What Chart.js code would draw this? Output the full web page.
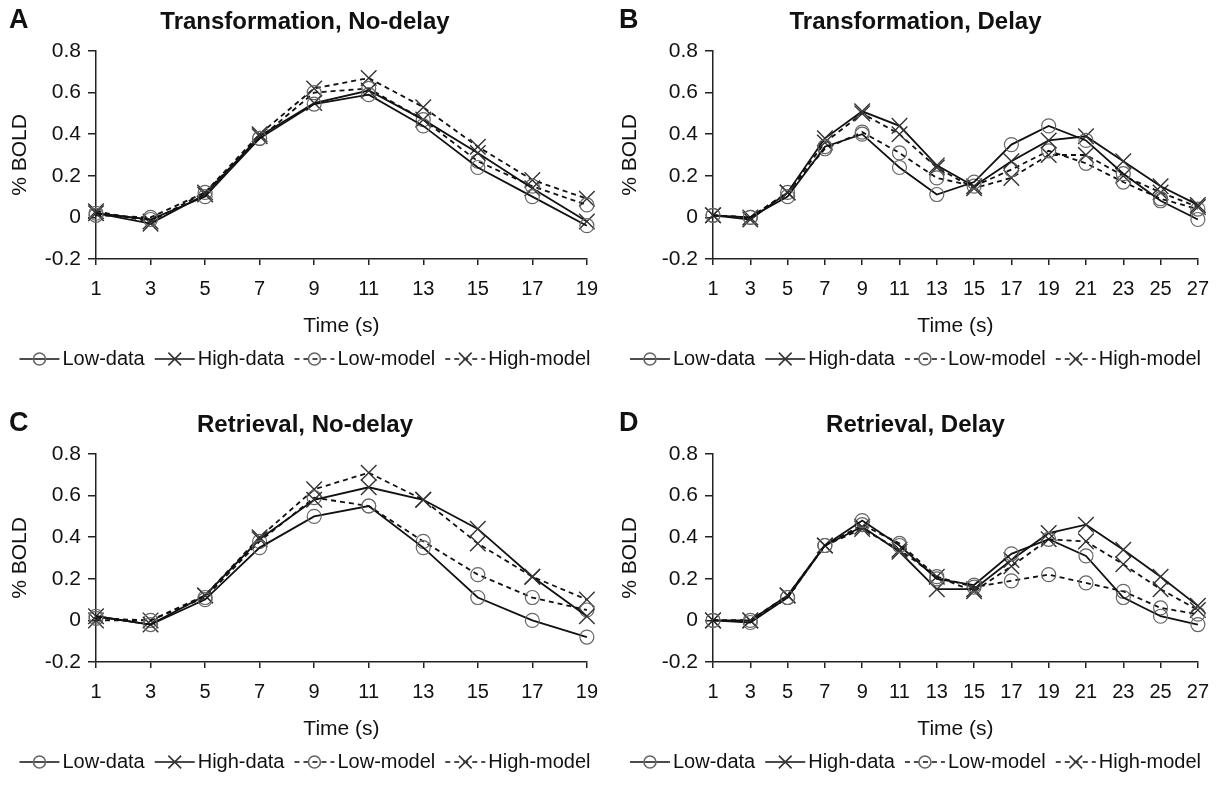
<!DOCTYPE html>
<html>
<head>
<meta charset="utf-8">
<script src="https://cdn.jsdelivr.net/npm/chart.js@4.4.0/dist/chart.umd.min.js"></script>
<style>
  body { margin: 0; background: #fff; width: 1221px; height: 785px; overflow: hidden; position: relative; }
  .panel { position: absolute; }
</style>
</head>
<body>
<div class="panel" style="left:0;top:0"><canvas id="cA" width="610" height="403"></canvas></div>
<div class="panel" style="left:610px;top:0"><canvas id="cB" width="611" height="403"></canvas></div>
<div class="panel" style="left:0;top:403px"><canvas id="cC" width="610" height="382"></canvas></div>
<div class="panel" style="left:610px;top:403px"><canvas id="cD" width="611" height="382"></canvas></div>
<script>
// time points (s)
const timesNoDelay = ['1', '3', '5', '7', '9', '11', '13', '15', '17', '19'];
const timesDelay = ['1', '3', '5', '7', '9', '11', '13', '15', '17', '19', '21', '23', '25', '27'];
const yTicks = [0.8, 0.6, 0.4, 0.2, 0, -0.2];

// A: Transformation, No-delay
const aLowData   = [0.02, -0.01, 0.10, 0.38, 0.545, 0.59, 0.44, 0.24, 0.10, -0.04];
const aHighData  = [0.02, -0.03, 0.11, 0.39, 0.55, 0.61, 0.47, 0.31, 0.14, -0.02];
const aLowModel  = [0.01, 0.00, 0.12, 0.38, 0.60, 0.62, 0.47, 0.27, 0.15, 0.06];
const aHighModel = [0.03, -0.02, 0.12, 0.40, 0.62, 0.67, 0.53, 0.34, 0.18, 0.09];

// B: Transformation, Delay
const bLowData   = [0.01, 0.00, 0.10, 0.34, 0.40, 0.24, 0.11, 0.17, 0.35, 0.44, 0.37, 0.21, 0.08, -0.01];
const bHighData  = [0.01, -0.01, 0.12, 0.38, 0.51, 0.44, 0.25, 0.15, 0.27, 0.37, 0.39, 0.27, 0.15, 0.06];
const bLowModel  = [0.01, 0.00, 0.12, 0.33, 0.41, 0.31, 0.19, 0.15, 0.23, 0.32, 0.26, 0.17, 0.09, 0.04];
const bHighModel = [0.01, 0.00, 0.12, 0.36, 0.50, 0.40, 0.24, 0.14, 0.19, 0.30, 0.30, 0.20, 0.12, 0.05];

// C: Retrieval, No-delay
const cLowData   = [0.02, -0.02, 0.10, 0.35, 0.50, 0.55, 0.35, 0.11, 0.00, -0.08];
const cHighData  = [0.02, -0.02, 0.12, 0.39, 0.58, 0.64, 0.58, 0.44, 0.21, 0.02];
const cLowModel  = [0.01, 0.00, 0.11, 0.38, 0.59, 0.55, 0.38, 0.22, 0.11, 0.05];
const cHighModel = [0.00, 0.00, 0.12, 0.40, 0.63, 0.71, 0.58, 0.37, 0.21, 0.10];

// D: Retrieval, Delay
const dLowData   = [0.00, -0.01, 0.11, 0.36, 0.48, 0.36, 0.20, 0.17, 0.32, 0.39, 0.31, 0.11, 0.02, -0.02];
const dHighData  = [0.00, 0.00, 0.12, 0.36, 0.45, 0.33, 0.15, 0.15, 0.29, 0.42, 0.46, 0.34, 0.21, 0.07];
const dLowModel  = [0.00, 0.00, 0.11, 0.36, 0.46, 0.37, 0.21, 0.16, 0.19, 0.22, 0.18, 0.14, 0.06, 0.03];
const dHighModel = [0.00, 0.00, 0.12, 0.36, 0.44, 0.34, 0.21, 0.14, 0.26, 0.39, 0.38, 0.27, 0.15, 0.05];

const FONT = '"Liberation Sans", Arial, Helvetica, sans-serif';

// legend drawn as line + marker + text, like the original figure
const lineLegend = {
  id: 'lineLegend',
  afterDraw(chart) {
    const ctx = chart.ctx;
    const sets = chart.data.datasets;
    const sample = 40, gap = 3, spacing = 10;
    ctx.save();
    ctx.font = '20px ' + FONT;
    ctx.textBaseline = 'middle';
    const widths = sets.map(ds => ctx.measureText(ds.label).width);
    const total = widths.reduce((a, b) => a + b, 0) + sets.length * (sample + gap) + (sets.length - 1) * spacing;
    let x = (chart.width - total) / 2;
    const y = chart.chartArea.bottom + 100;
    sets.forEach((ds, i) => {
      ctx.strokeStyle = '#111';
      ctx.lineWidth = 1.6;
      ctx.setLineDash(ds.borderDash || []);
      ctx.beginPath();
      ctx.moveTo(x, y);
      ctx.lineTo(x + sample, y);
      ctx.stroke();
      ctx.setLineDash([]);
      ctx.strokeStyle = ds.pointBorderColor;
      ctx.fillStyle = 'rgba(0,0,0,0)';
      Chart.helpers.drawPoint(ctx, {
        pointStyle: ds.pointStyle,
        radius: ds.pointStyle === 'circle' ? 6 : 9,
        borderWidth: 1.2,
        rotation: 0
      }, x + sample / 2, y);
      ctx.fillStyle = '#111';
      ctx.fillText(ds.label, x + sample + gap, y);
      x += sample + gap + widths[i] + spacing;
    });
    ctx.restore();
  }
};

// panel letter and heading, centred on the panel like the Excel chart title
const panelHeading = {
  id: 'panelHeading',
  afterDraw(chart, args, opts) {
    const ctx = chart.ctx;
    ctx.save();
    ctx.fillStyle = '#111';
    ctx.textBaseline = 'middle';
    ctx.font = 'bold 27px ' + FONT;
    ctx.textAlign = 'left';
    ctx.fillText(opts.letter, 9, 21);
    ctx.font = 'bold 24px ' + FONT;
    ctx.textAlign = 'center';
    ctx.fillText(opts.title, chart.width / 2, 22);
    ctx.restore();
  }
};

function series(label, values, dashed, marker) {
  return {
    label: label,
    data: values,
    borderColor: '#111',
    borderWidth: 1.8,
    borderDash: dashed ? [5, 4] : [],
    pointStyle: marker,
    pointRadius: marker === 'circle' ? 7 : 11,
    pointBorderWidth: marker === 'circle' ? 1.2 : 1.4,
    pointBorderColor: marker === 'circle' ? '#666' : '#333',
    pointBackgroundColor: 'rgba(0,0,0,0)',
    fill: false,
    tension: 0
  };
}

function makePanel(id, letter, title, labels, lowData, highData, lowModel, highModel, yWidth, rightPad) {
  const canvas = document.getElementById(id);
  // plot area ends 259px from the top, x scale block is 80px tall
  const bottomPad = canvas.height - 259 - 80;
  return new Chart(canvas.getContext('2d'), {
    type: 'line',
    data: {
      labels: labels,
      datasets: [
        series('Low-data', lowData, false, 'circle'),
        series('High-data', highData, false, 'crossRot'),
        series('Low-model', lowModel, true, 'circle'),
        series('High-model', highModel, true, 'crossRot')
      ]
    },
    options: {
      responsive: false,
      animation: false,
      layout: { padding: { left: 0, right: rightPad, top: 51, bottom: bottomPad } },
      plugins: {
        legend: { display: false },
        tooltip: { enabled: false },
        title: { display: false },
        panelHeading: { letter: letter, title: title }
      },
      scales: {
        x: {
          type: 'category',
          offset: false,
          border: { display: true, color: '#222', width: 1.5 },
          grid: { display: true, drawOnChartArea: false, drawTicks: true, tickLength: 6, color: '#222', lineWidth: 1.5 },
          ticks: { color: '#111', font: { family: FONT, size: 20 }, padding: 12, maxRotation: 0, autoSkip: false },
          title: { display: true, text: 'Time (s)', color: '#111', font: { family: FONT, size: 21, lineHeight: 1.2 }, padding: { top: 0, bottom: 0 } },
          afterFit(scale) { scale.height = 80; }
        },
        y: {
          min: -0.2,
          max: 0.8,
          afterBuildTicks(scale) { scale.ticks = yTicks.map(v => ({ value: v })); },
          border: { display: true, color: '#222', width: 1.5 },
          grid: { display: true, drawOnChartArea: false, drawTicks: true, tickLength: 8, color: '#222', lineWidth: 1.5 },
          ticks: {
            color: '#111',
            font: { family: FONT, size: 21 },
            padding: 7,
            callback: v => (Math.abs(v) < 1e-9 ? '0' : (Math.round(v * 10) / 10).toFixed(1))
          },
          title: { display: true, text: '% BOLD', color: '#111', font: { family: FONT, size: 21, lineHeight: 1.2 }, padding: { top: 8, bottom: 0 } },
          afterFit(scale) { scale.width = yWidth; }
        }
      }
    },
    plugins: [lineLegend, panelHeading]
  });
}

makePanel('cA', 'A', 'Transformation, No-delay', timesNoDelay, aLowData, aHighData, aLowModel, aHighModel, 96, 23);
makePanel('cB', 'B', 'Transformation, Delay', timesDelay, bLowData, bHighData, bLowModel, bHighModel, 103, 17);
makePanel('cC', 'C', 'Retrieval, No-delay', timesNoDelay, cLowData, cHighData, cLowModel, cHighModel, 96, 22);
makePanel('cD', 'D', 'Retrieval, Delay', timesDelay, dLowData, dHighData, dLowModel, dHighModel, 103, 17);
</script>
</body>
</html>
